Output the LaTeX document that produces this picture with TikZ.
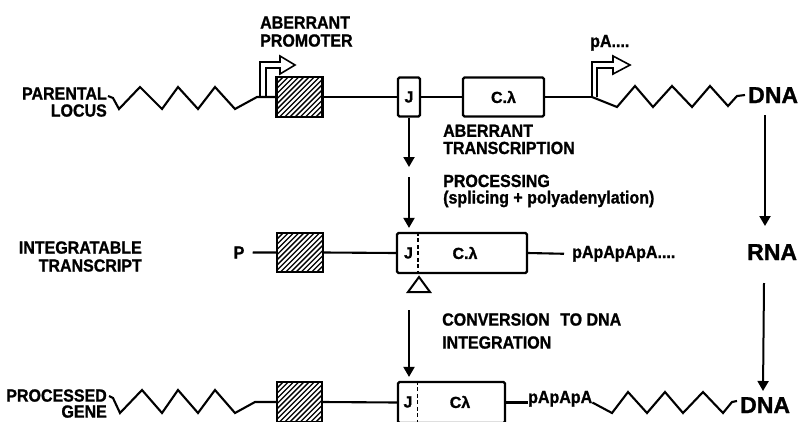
\documentclass[tikz,border=0pt]{standalone}
\usepackage{fontspec}
\usepackage{graphicx}
\setmainfont{Liberation Sans}[BoldFeatures={FakeBold=1.2}]
\usetikzlibrary{arrows.meta}
\newcommand{\st}[1]{\scalebox{1}[1.1]{#1}}
\begin{document}
\begin{tikzpicture}[x=1pt,y=-1pt,
  lbl/.style={font=\fontsize{16}{18}\selectfont\bfseries, inner sep=0pt},
  big/.style={font=\fontsize{23}{26}\selectfont\bfseries, inner sep=0pt},
  ln/.style={line width=2.1pt, line join=miter},
  prom/.style={line width=1.6pt, line join=miter},
  arr/.style={line width=2pt, -{Triangle[width=11pt,length=10pt]}},
  gbox/.style={draw, line width=2.2pt, rounded corners=1.5pt, inner sep=0pt, font=\fontsize{16}{18}\selectfont\bfseries},
  hatchbox/.style={draw, line width=2.2pt, inner sep=0pt,
    path picture={\foreach \k in {-14,...,14}{\draw[line width=1.3pt] ([shift={({\k*5.2pt},0pt)}]path picture bounding box.center) ++(-40pt,-40pt) -- ++(80pt,80pt);}}},
  dsh/.style={line width=1.6pt, dash pattern=on 4pt off 2.5pt}]
\useasboundingbox (0,0) rectangle (801,421);
\clip (0,0) rectangle (801,421);

% ---------- labels ----------
\node[lbl, anchor=base east] (parental) at (107,99.6) {\st{PARENTAL}};
\node[lbl, anchor=base east] (locus) at (107,116.6) {\st{LOCUS}};
\node[lbl, anchor=base west] (aberr1) at (260,28.6) {\st{ABERRANT}};
\node[lbl, anchor=base west] (promoter) at (260,46.6) {\st{PROMOTER}};
\node[lbl, anchor=base west] (pa1) at (590,47) {\st{pA....}};
\node[lbl, anchor=base west] (aberr2) at (443,136.8) {\st{ABERRANT}};
\node[lbl, anchor=base west] (transcription) at (443,154) {\st{TRANSCRIPTION}};
\node[lbl, anchor=base west] (processing) at (443,187) {\st{PROCESSING}};
\node[lbl, anchor=base west] (splicing) at (443,203.5) {\st{(splicing + polyadenylation)}};
\node[lbl, anchor=base east] (integratable) at (142,253.6) {\st{INTEGRATABLE}};
\node[lbl, anchor=base east] (transcript) at (142,271.6) {\st{TRANSCRIPT}};
\node[lbl, anchor=base] (P) at (239,258.6) {\st{P}};
\node[lbl, anchor=base west] (pa2) at (572,258) {\st{pApApApA....}};
\node[lbl, anchor=base west] (conversion) at (442,325.6) {\st{CONVERSION\hspace{6pt} TO DNA}};
\node[lbl, anchor=base west] (integration) at (442,348.6) {\st{INTEGRATION}};
\node[lbl, anchor=base east] (processed) at (107,401.6) {\st{PROCESSED}};
\node[lbl, anchor=base east] (gene) at (107,417.6) {\st{GENE}};
\node[lbl, anchor=base west] (pa3) at (528,403) {\st{pApApA}};
\node[big, anchor=base west] (dna1) at (748,103) {DNA};
\node[big, anchor=base west] (rna) at (747,260) {RNA};
\node[big, anchor=base west] (dna3) at (740,413) {DNA};

% ---------- top row ----------
\node[hatchbox, minimum width=46pt, minimum height=40pt] (h1) at (299.5,97) {};
\node[gbox, minimum width=22pt, minimum height=39pt] (j1) at (409,97) {J};
\node[gbox, minimum width=81pt, minimum height=39pt] (c1) at (503.5,97) {C.λ};
\coordinate (p2) at (592,97);
\draw[ln] (108,96) -- (113,98) -- (119,109) -- (140,87) -- (162,109) -- (178,87) -- (198,109) -- (215,87) -- (235,109) -- (257,97) -- (h1.west);
\draw[ln] (h1.east) -- (j1.west);
\draw[ln] (j1.east) -- (c1.west);
\draw[ln] (c1.east) -- (p2);
\draw[ln] (p2) -- (617,107) -- (635,86) -- (653,107) -- (672,86) -- (692,107) -- (710,86) -- (728,106) -- (737,96) -- (745,95);
\draw[prom] (260,97) -- (260,62) -- (280,62) -- (280,56) -- (295,65) -- (280,74) -- (280,68) -- (266,68) -- (266,97);
\draw[prom] (592,97) -- (592,62) -- (613,62) -- (613,56) -- (630,65) -- (613,74) -- (613,68) -- (597,68) -- (597,97);

% ---------- middle row ----------
\node[hatchbox, minimum width=46pt, minimum height=39pt] (h2) at (300,252.5) {};
\node[gbox, minimum width=130pt, minimum height=40pt] (b2) at (462,253) {};
\draw[dsh] ([xshift=22pt]b2.north west) -- ([xshift=22pt]b2.south west);
\node[gbox, draw=none] (j2) at (408.5,253) {J};
\node[gbox, draw=none] (c2) at (465,253) {C.λ};
\draw[ln] ([xshift=8pt]P.east) -- (h2.west);
\draw[ln] (h2.east) -- (b2.west);
\draw[ln] (b2.east) -- ([xshift=-8pt]pa2.west);
\draw[line width=2pt, line join=miter] (419,277) -- (430,292) -- (408,292) -- cycle;

% ---------- bottom row ----------
\node[hatchbox, minimum width=45pt, minimum height=40pt] (h3) at (299.5,402) {};
\node[gbox, minimum width=107pt, minimum height=41pt] (b3) at (451.5,402.5) {};
\draw[dsh] ([xshift=20.5pt]b3.north west) -- ([xshift=20.5pt]b3.south west);
\node[gbox, draw=none] (j3) at (408,402) {J};
\node[gbox, draw=none] (c3) at (460,402) {Cλ};
\draw[ln] (109,396) -- (113,398) -- (120,413) -- (142,390) -- (162,413) -- (178,390) -- (198,413) -- (215,390) -- (235,413) -- (255,402) -- (h3.west);
\draw[ln] (h3.east) -- (b3.west);
\draw[ln] (b3.east) -- (pa3.west |- b3.east);
\draw[ln] (pa3.east |- b3.east) -- (612,413) -- (628,392) -- (647,413) -- (665,392) -- (683,413) -- (703,392) -- (723,413) -- (732,402) -- (737,401);

% ---------- arrows ----------
\coordinate (ja1) at (409,167);
\coordinate (ja2) at (409,177);
\coordinate (ja3) at (409,310);
\draw[arr] (j1.south) -- (ja1);
\draw[arr, shorten >=4pt] (ja2) -- (b2.north -| j1.south);
\draw[arr, shorten >=4pt] (ja3) -- (b3.north -| j1.south);
\coordinate (ra1) at (765,115);
\coordinate (rb1) at (765,226);
\coordinate (ra2) at (764,283);
\coordinate (rb2) at (763,391);
\draw[arr] (ra1) -- (rb1);
\draw[arr] (ra2) -- (rb2);
\end{tikzpicture}
\end{document}
